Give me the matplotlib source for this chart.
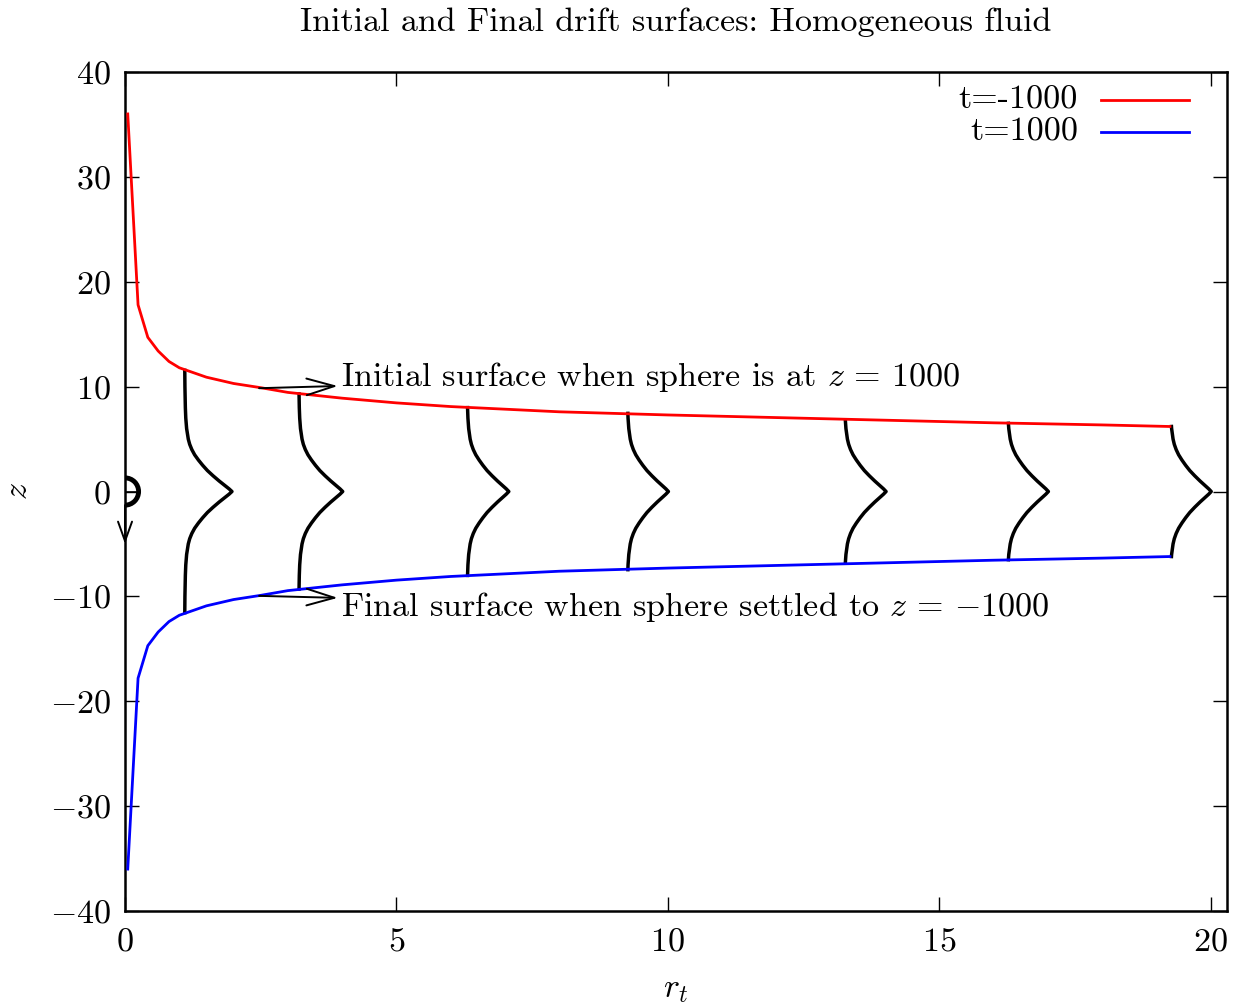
import numpy as np
import matplotlib.pyplot as plt
from matplotlib.patches import Arc

plt.rcParams['font.family'] = 'cmr10'
plt.rcParams['mathtext.fontset'] = 'cm'
plt.rcParams['axes.formatter.use_mathtext'] = True
plt.rcParams['font.size'] = 24.5

# drift surface (upper one; the final surface is its mirror image)
r_surf = [0.05, 0.24, 0.42, 0.61, 0.81, 1.0, 1.5, 2.0, 2.5, 3.0, 4.0, 5.0,
          6.0, 7.0, 8.0, 9.0, 10.0, 12.0, 14.0, 16.0, 18.0, 19.25]
z_init = [36.0, 17.8, 14.7, 13.4, 12.4, 11.8, 10.9, 10.3, 9.9, 9.45, 8.9, 8.45,
          8.1, 7.85, 7.6, 7.45, 7.3, 7.05, 6.8, 6.55, 6.35, 6.2]
z_final = [-z for z in z_init]

# marked fluid columns: start radius, column half height, max drift
col_r0 = [1.1, 3.2, 6.3, 9.25, 13.25, 16.25, 19.25]
col_top = [11.55, 9.3, 8.0, 7.45, 6.8, 6.5, 6.2]
col_amp = [0.87, 0.81, 0.77, 0.76, 0.77, 0.76, 0.76]

# drift profile (fraction of max drift) against |z|
prof_z = [0, 0.25, 0.5, 0.75, 1.0, 1.5, 2.0, 2.5, 3.0, 3.5, 4.0, 4.5, 5.0,
          6.0, 7.0, 8.0, 10.0, 12.0]
prof_f = [1.0, 0.94, 0.87, 0.8, 0.73, 0.6, 0.48, 0.38, 0.29, 0.21, 0.15, 0.105,
          0.075, 0.04, 0.022, 0.013, 0.004, 0.0]

fig = plt.figure(figsize=(12.33, 10.07), dpi=100)
ax = fig.add_axes([0.1014, 0.0953, 0.8937, 0.8332])

ax.plot(r_surf, z_init, color='#ff0000', lw=2.0, zorder=3)
ax.plot(r_surf, z_final, color='#0000ff', lw=2.0, zorder=3)

pz = np.array(prof_z)
pf = np.array(prof_f)
for r0, top, amp in zip(col_r0, col_top, col_amp):
    keep = pz < top
    zz = np.append(pz[keep], top)
    ff = np.append(pf[keep], np.interp(top, pz, pf))
    z_col = np.concatenate([zz[::-1], -zz[1:]])
    f_col = np.concatenate([ff[::-1], ff[1:]])
    ax.plot(r0 + amp * f_col, z_col, color='black', lw=2.5, zorder=2,
            solid_joinstyle='round')

# sphere at the origin and its direction of motion
ax.add_patch(Arc((0, 0), 0.5, 2.6, theta1=-90, theta2=90, color='black', lw=3.5, zorder=4))
ax.plot([0, 0.2], [0, 0], color='black', lw=1.2, zorder=4)
ax.annotate('', xy=(0, -5.0), xytext=(0, -1.3),
            arrowprops=dict(arrowstyle='->, head_length=0.5, head_width=0.18', color='black',
                            lw=1.4, mutation_scale=28, shrinkA=0, shrinkB=0))

head = '<-, head_length=0.5, head_width=0.15'
ax.annotate('Initial surface when sphere is at $z\\,=\\,1000$', xy=(2.47, 9.85), xytext=(3.97, 10.9),
            va='center', ha='left',
            arrowprops=dict(arrowstyle=head, color='black', lw=1.4, mutation_scale=40,
                            shrinkA=0, shrinkB=0))
ax.annotate('Final surface when sphere settled to $z\\,=\\,{-1000}$', xy=(2.47, -9.95), xytext=(3.97, -11.0),
            va='center', ha='left',
            arrowprops=dict(arrowstyle=head, color='black', lw=1.4, mutation_scale=40,
                            shrinkA=0, shrinkB=0))

# legend drawn gnuplot style: label right-aligned, sample to the right
leg_labels = ['t=-1000', 't=1000']
leg_colors = ['#ff0000', '#0000ff']
for i, (lab, c) in enumerate(zip(leg_labels, leg_colors)):
    yy = 0.967 - i * 0.038
    ax.text(0.865, yy, lab, transform=ax.transAxes, ha='right', va='center')
    ax.plot([0.886, 0.966], [yy, yy], color=c, lw=2.0, transform=ax.transAxes)

ax.set_xlim(0, 20.3)
ax.set_ylim(-40, 40)
ax.set_xticks([0, 5, 10, 15, 20])
ax.set_yticks(np.arange(-40, 41, 10))
ax.tick_params(direction='in', length=10, width=1, top=True, right=True)
ax.tick_params(axis='x', pad=12)
ax.tick_params(axis='y', pad=10)
for s in ax.spines.values():
    s.set_linewidth(1.8)

ax.set_xlabel('$r_t$', labelpad=14)
ax.set_ylabel('$z$', labelpad=12)
fig.text(0.548, 0.978, 'Initial and Final drift surfaces: Homogeneous fluid', ha='center', va='center')

fig.savefig('out.png', dpi=100)
